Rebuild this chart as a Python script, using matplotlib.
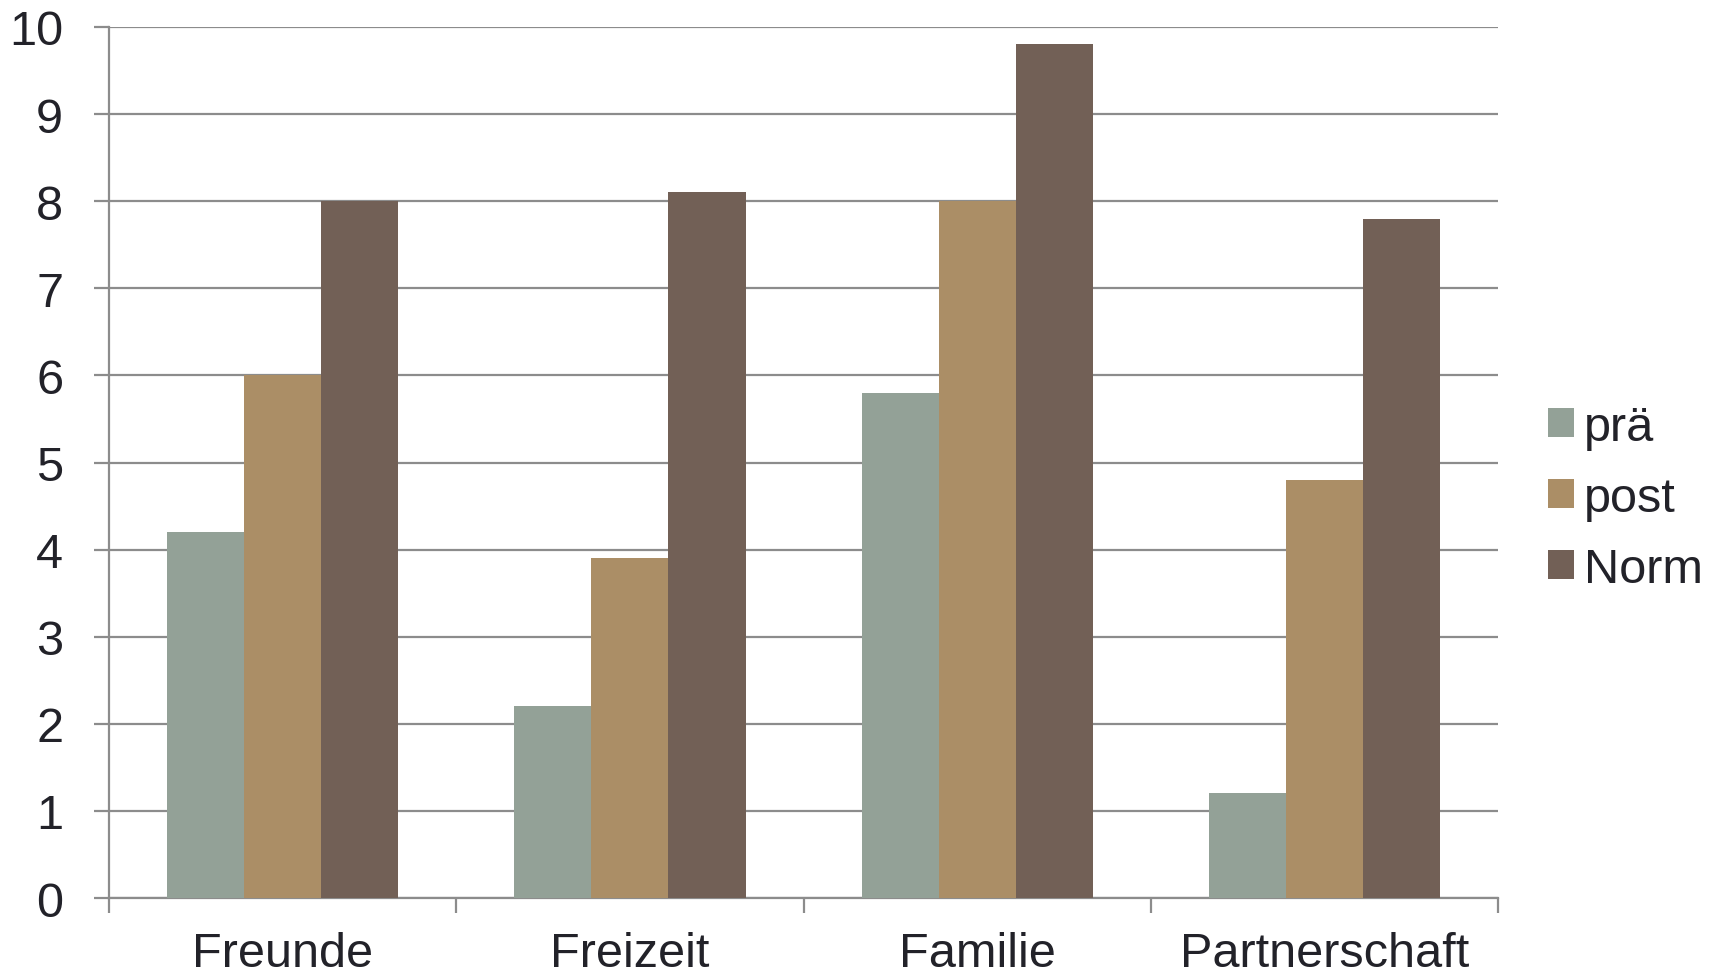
import numpy as np
import matplotlib.pyplot as plt
from matplotlib.patches import Patch

categories = ['Freunde', 'Freizeit', 'Familie', 'Partnerschaft']
series_names = ['prä', 'post', 'Norm']
pre_values = [4.2, 2.2, 5.8, 1.2]
post_values = [6.0, 3.9, 8.0, 4.8]
norm_values = [8.0, 8.1, 9.8, 7.8]
colors = ['#93a197', '#ab8e66', '#726056']

plt.rcParams['font.family'] = ['Liberation Sans', 'DejaVu Sans']
text_color = '#222229'
grid_color = '#8c8c8c'

fig = plt.figure(figsize=(17.12, 9.79), dpi=100)
ax = fig.add_axes([0.0637, 0.0817, 0.8113, 0.8897])

x = np.arange(len(categories))
w = 0.222
for i, vals in enumerate([pre_values, post_values, norm_values]):
    ax.bar(x + (i - 1) * w, vals, width=w, color=colors[i], zorder=3, linewidth=0)

ax.set_xlim(-0.5, len(categories) - 0.5)
ax.set_ylim(0, 10)
ax.set_yticks(range(0, 11))
ax.yaxis.grid(True, color=grid_color, linewidth=1.6, zorder=0)
ax.set_axisbelow(True)

for s in ['top', 'right']:
    ax.spines[s].set_visible(False)
for s in ['left', 'bottom']:
    ax.spines[s].set_color(grid_color)
    ax.spines[s].set_linewidth(1.6)

ax.tick_params(axis='y', length=11, width=1.6, color=grid_color, pad=22,
               labelsize=35, labelcolor=text_color)
ax.set_xticks(x)
ax.set_xticklabels(categories)
ax.tick_params(axis='x', which='major', length=0, pad=24, labelsize=35, labelcolor=text_color)
ax.set_xticks(np.arange(-0.5, len(categories) + 0.5), minor=True)
ax.tick_params(axis='x', which='minor', length=11, width=1.6, color=grid_color)

handles = [Patch(facecolor=c, edgecolor='none') for c in colors]
fig.legend(handles, series_names, loc='center left', bbox_to_anchor=(0.8926, 0.49),
           frameon=False, fontsize=35, labelcolor=text_color, borderaxespad=0,
           handlelength=0.55, handleheight=0.55, handletextpad=0.2, labelspacing=0.53)

fig.savefig('out.png', dpi=100)
